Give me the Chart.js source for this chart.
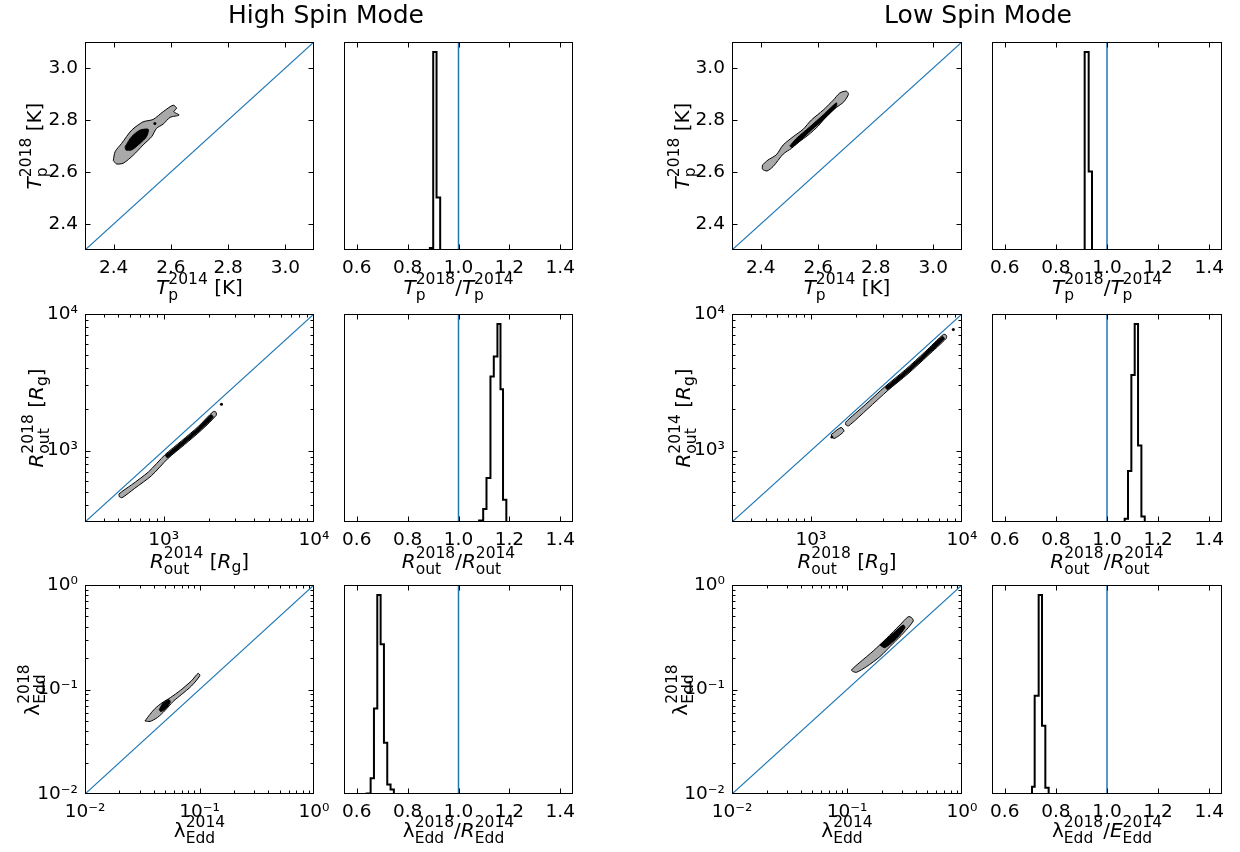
<!DOCTYPE html>
<html>
<head>
<meta charset="utf-8">
<title>High / Low Spin Mode</title>
<script src="https://cdn.jsdelivr.net/npm/chart.js@4.4.1/dist/chart.umd.min.js"></script>
<style>
  body { margin: 0; background: #fff; }
  #fig { position: relative; width: 1240px; height: 852px; overflow: hidden; font-family: "DejaVu Sans", sans-serif; color: #000; background: #fff; }
  #fig canvas { position: absolute; }
  .title { position: absolute; top: 2px; font-size: 25px; line-height: 1; white-space: nowrap; transform: translateX(-50%); }
  .lab { position: absolute; font-size: 20px; line-height: 1; white-space: nowrap; }
  .it { font-style: italic; }
  .ss { display: inline-flex; flex-direction: column; font-size: 15.5px; line-height: 1; vertical-align: 10px; }
  .sb { font-size: 15.5px; vertical-align: -4px; }
</style>
</head>
<body>
<div id="fig"></div>
<script>
(function () {
    'use strict';

    // ---- axes ----
    const tempRange = [2.3, 3.1];
    const tempTicks = [2.4, 2.6, 2.8, 3.0];
    const routRange = [300, 10000];
    const routTicks = [1000, 10000];
    const eddRange = [0.01, 1];
    const eddTicks = [0.01, 0.1, 1];
    const ratioRange = [0.55, 1.45];
    const ratioTicks = [0.6, 0.8, 1.0, 1.2, 1.4];
    const histMax = 1.05;
    const ratioOne = 1.0;

    // ---- contours (x, y) ----
    // High spin, T_p
    const hsTempOuter = [[2.399,2.644],[2.405,2.678],[2.428,2.710],[2.463,2.761],[2.503,2.793],[2.538,2.802],[2.573,2.832],[2.608,2.857],[2.620,2.845],[2.610,2.832],[2.629,2.819],[2.597,2.810],[2.573,2.784],[2.550,2.768],[2.533,2.736],[2.503,2.704],[2.469,2.665],[2.434,2.634],[2.410,2.631]];
    const hsTempInner = [[2.440,2.697],[2.463,2.736],[2.492,2.761],[2.521,2.764],[2.515,2.736],[2.492,2.710],[2.463,2.685],[2.443,2.685]];
    const hsTempDots = [[2.544,2.787]];
    // Low spin, T_p
    const lsTempOuter = [[2.406,2.627],[2.425,2.646],[2.454,2.666],[2.478,2.704],[2.513,2.736],[2.547,2.764],[2.576,2.800],[2.617,2.838],[2.652,2.876],[2.675,2.904],[2.698,2.911],[2.705,2.899],[2.689,2.870],[2.663,2.848],[2.629,2.815],[2.600,2.777],[2.565,2.742],[2.530,2.713],[2.507,2.691],[2.478,2.669],[2.443,2.621],[2.422,2.604],[2.406,2.611]];
    const lsTempInner = [[2.501,2.700],[2.524,2.729],[2.571,2.774],[2.617,2.819],[2.663,2.866],[2.663,2.853],[2.623,2.806],[2.576,2.761],[2.530,2.713],[2.507,2.695]];
    const lsTempDots = [];
    // High spin, R_out
    const hsRoutOuter = [[507,459],[506,482],[614,563],[793,698],[1022,933],[1319,1181],[1703,1503],[2142,1934],[2234,1905],[2238,1814],[1780,1409],[1379,1107],[1068,875],[829,654],[642,529],[529,452]];
    const hsRoutInner = [[1029,922],[1329,1167],[1715,1485],[2069,1826],[2132,1754],[1767,1427],[1369,1121],[1061,886]];
    const hsRoutDots = [[2425,2180]];
    // Low spin, R_out
    const lsRoutOuter = [[1701,1539],[1699,1616],[2282,2163],[3093,2942],[4202,3895],[5701,5296],[7543,7091],[7870,6988],[7883,6651],[5957,4968],[4392,3653],[3233,2760],[2384,2029],[1775,1516]];
    const lsRoutPiece = [[1357,1305],[1581,1477],[1653,1385],[1419,1225]];
    const lsRoutInner = [[3116,2908],[4233,3849],[5742,5235],[7407,6852],[7633,6584],[5916,5029],[4361,3699],[3210,2794]];
    const lsRoutDots = [[1375,1255],[8762,7685]];
    // High spin, lambda_Edd
    const hsEddOuter = [[0.0334,0.0500],[0.0370,0.0580],[0.0410,0.0660],[0.0470,0.0745],[0.0560,0.0840],[0.0680,0.0980],[0.0850,0.1210],[0.0973,0.1428],[0.1007,0.1357],[0.0850,0.1080],[0.0700,0.0900],[0.0590,0.0770],[0.0500,0.0630],[0.0430,0.0540],[0.0370,0.0495]];
    const hsEddInner = [[0.0445,0.0640],[0.0480,0.0740],[0.0540,0.0800],[0.0555,0.0760],[0.0510,0.0660],[0.0460,0.0615]];
    // Low spin, lambda_Edd
    const lsEddOuter = [[0.1132,0.1482],[0.1094,0.1537],[0.1294,0.1820],[0.169,0.2335],[0.2209,0.3088],[0.2885,0.4142],[0.341,0.4977],[0.3648,0.4868],[0.3769,0.4522],[0.3083,0.3448],[0.2521,0.2765],[0.1932,0.2061],[0.1478,0.1654],[0.121,0.146]];
    const lsEddInner = [[0.1932,0.2666],[0.2521,0.3448],[0.3083,0.4142],[0.3187,0.3905],[0.2697,0.3088],[0.2133,0.2514]];

    // ---- ratio histograms: bin edges and counts (peak = 1) ----
    const hsTempEdges = [0.8875, 0.9006, 0.9137, 0.928];
    const hsTempCounts = [0.0105, 1.0, 0.265];
    const lsTempEdges = [0.9126, 0.9283, 0.9413];
    const lsTempCounts = [1.0, 0.396];
    const hsRoutEdges = [1.081, 1.097, 1.110, 1.1256, 1.1387, 1.153, 1.165, 1.175, 1.188];
    const hsRoutCounts = [0.008, 0.065, 0.222, 0.734, 0.835, 1.0, 0.67, 0.112];
    const lsRoutEdges = [1.0691, 1.0822, 1.0953, 1.1084, 1.1215, 1.1346, 1.1477];
    const lsRoutCounts = [0.017, 0.258, 0.742, 1.0, 0.386, 0.028];
    const hsEddEdges = [0.639, 0.6547, 0.6677, 0.6808, 0.6939, 0.707, 0.720, 0.733, 0.746];
    const hsEddCounts = [0.003, 0.079, 0.43, 1.0, 0.752, 0.258, 0.048, 0.023];
    const lsEddEdges = [0.7065, 0.717, 0.7326, 0.7457, 0.7587, 0.7717];
    const lsEddCounts = [0.037, 0.494, 1.0, 0.343, 0.032];

    const BLUE = '#1f77b4';
    const GRAY = '#a9a9a9';
    const FONT = 'DejaVu Sans';
    const TICK_SIZE = 18.5;
    const fig = document.getElementById('fig');

    const SUP = { '-': '\u207B', '0': '\u2070', '1': '\u00B9', '2': '\u00B2', '3': '\u00B3', '4': '\u2074' };

    function fmtLin(v) { return v.toFixed(1); }
    function fmtLog(v) {
        const e = String(Math.round(Math.log10(v)));
        return '10' + e.split('').map(c => SUP[c]).join('');
    }

    function logMinors(range) {
        const out = [];
        for (let d = Math.floor(Math.log10(range[0])); d < Math.ceil(Math.log10(range[1])); d++) {
            for (let k = 2; k <= 9; k++) {
                const v = k * Math.pow(10, d);
                if (v > range[0] && v < range[1]) out.push(v);
            }
        }
        return out;
    }

    function xy(pts) { return pts.map(p => ({ x: p[0], y: p[1] })); }
    function closed(pts) { return xy(pts.concat([pts[0]])); }
    function steps(edges, counts) {
        const out = [{ x: edges[0], y: 0 }];
        counts.forEach((c, i) => {
            out.push({ x: edges[i], y: c });
            out.push({ x: edges[i + 1], y: c });
        });
        out.push({ x: edges[edges.length - 1], y: 0 });
        return out;
    }

    function lineSet(points, color, width, order) {
        return { data: points, borderColor: color, borderWidth: width, pointRadius: 0, fill: false, tension: 0, order: order };
    }
    function patch(poly, color, order) {
        return { data: closed(poly), borderColor: '#000', borderWidth: 1, backgroundColor: color, fill: 'shape', pointRadius: 0, tension: 0.25, order: order };
    }
    function dots(pts, order) {
        return { data: xy(pts), showLine: false, pointRadius: 1.5, pointBackgroundColor: '#000', pointBorderWidth: 0, order: order };
    }

    function axis(pos, type, range, ticks, fmt, size, showLabels) {
        const horizontal = pos === 'bottom';
        return {
            type: type, position: pos, min: range[0], max: range[1], bounds: 'data',
            grid: { display: false, drawTicks: false },
            border: { display: false },
            afterBuildTicks: s => { s.ticks = ticks.map(v => ({ value: v })); },
            afterFit: s => { if (horizontal) s.height = size; else s.width = size; },
            ticks: {
                display: showLabels, autoSkip: false, maxRotation: 0, minRotation: 0,
                padding: horizontal ? 7 : 7, color: '#000',
                font: { family: FONT, size: TICK_SIZE }, callback: fmt
            }
        };
    }

    // inward ticks on every side plus the frame
    const framePlugin = {
        id: 'frame',
        afterDraw(chart, args, opts) {
            const ctx = chart.ctx, a = chart.chartArea;
            const xs = chart.scales.x, ys = chart.scales.y;
            const l = Math.round(a.left) + 0.5, r = Math.round(a.right) - 0.5;
            const t = Math.round(a.top) + 0.5, b = Math.round(a.bottom) - 0.5;
            ctx.save();
            ctx.strokeStyle = '#000';
            ctx.lineWidth = 1;
            ctx.beginPath();
            const xt = (vals, len) => vals.forEach(v => {
                const p = Math.round(xs.getPixelForValue(v)) + 0.5;
                if (p <= l || p >= r) return;
                ctx.moveTo(p, b); ctx.lineTo(p, b - len);
                ctx.moveTo(p, t); ctx.lineTo(p, t + len);
            });
            const yt = (vals, len) => vals.forEach(v => {
                const p = Math.round(ys.getPixelForValue(v)) + 0.5;
                if (p <= t || p >= b) return;
                ctx.moveTo(l, p); ctx.lineTo(l + len, p);
                ctx.moveTo(r, p); ctx.lineTo(r - len, p);
            });
            xt(xs.ticks.map(k => k.value), 5);
            xt(opts.xMinor || [], 3);
            if (opts.yTicks) {
                yt(ys.ticks.map(k => k.value), 5);
                yt(opts.yMinor || [], 3);
            }
            ctx.stroke();
            ctx.strokeRect(l, t, r - l, b - t);
            ctx.restore();
        }
    };

    function makePanel(p) {
        const pad = p.hist ? { l: 20, r: 26, t: 28, b: 40 } : { l: 60, r: 26, t: 28, b: 40 };
        const canvas = document.createElement('canvas');
        canvas.width = p.w + pad.l + pad.r;
        canvas.height = p.h + pad.t + pad.b;
        canvas.style.left = (p.x - pad.l) + 'px';
        canvas.style.top = (p.y - pad.t) + 'px';
        fig.appendChild(canvas);

        let datasets, scales, frame;
        if (p.hist) {
            datasets = [
                lineSet(steps(p.edges, p.counts), '#000', 2, 1),
                lineSet([{ x: ratioOne, y: 0 }, { x: ratioOne, y: histMax }], BLUE, 1.5, 0)
            ];
            scales = {
                x: axis('bottom', 'linear', ratioRange, ratioTicks, fmtLin, pad.b, true),
                y: axis('left', 'linear', [0, histMax], [], fmtLin, pad.l, false)
            };
            frame = { yTicks: false };
        } else {
            const rg = p.range;
            datasets = [lineSet([{ x: rg[0], y: rg[0] }, { x: rg[1], y: rg[1] }], BLUE, 1.2, 0)];
            (p.outer || []).forEach(poly => datasets.push(patch(poly, GRAY, 3)));
            (p.inner || []).forEach(poly => datasets.push(patch(poly, '#000', 2)));
            if (p.dots && p.dots.length) datasets.push(dots(p.dots, 1));
            const fmt = p.type === 'logarithmic' ? fmtLog : fmtLin;
            scales = {
                x: axis('bottom', p.type, rg, p.ticks, fmt, pad.b, true),
                y: axis('left', p.type, rg, p.ticks, fmt, pad.l, true)
            };
            const minors = p.type === 'logarithmic' ? logMinors(rg) : [];
            frame = { yTicks: true, xMinor: minors, yMinor: minors };
        }

        return new Chart(canvas, {
            type: 'line',
            data: { datasets: datasets },
            options: {
                responsive: false,
                animation: false,
                events: [],
                layout: { padding: { left: 0, right: pad.r, top: pad.t, bottom: 0 } },
                plugins: { legend: { display: false }, tooltip: { enabled: false }, frame: frame },
                scales: scales
            },
            plugins: [framePlugin]
        });
    }

    // ---- label helpers (sub/superscripts stacked like mathtext) ----
    function mt(base, sup, sub, italic) {
        return '<span class="' + (italic === false ? '' : 'it') + '">' + base + '</span>' +
            '<span class="ss"><span>' + sup + '</span><span>' + sub + '</span></span>';
    }
    const RG = '[<span class="it">R</span><span class="sb">g</span>]';

    function label(html, cx, cy, vertical) {
        const d = document.createElement('div');
        d.className = 'lab';
        d.innerHTML = html;
        d.style.left = cx + 'px';
        d.style.top = cy + 'px';
        d.style.transform = vertical ? 'translate(-50%,-50%) rotate(-90deg)' : 'translate(-50%,-50%)';
        fig.appendChild(d);
    }
    function title(text, cx) {
        const d = document.createElement('div');
        d.className = 'title';
        d.textContent = text;
        d.style.left = cx + 'px';
        fig.appendChild(d);
    }

    // ---- layout ----
    const colX = [85, 344, 732, 992];
    const colW = [229, 229, 230, 230];
    const rowY = [42, 314, 585];
    const rowH = [208, 208, 209];

    const panels = [
        { r: 0, c: 0, type: 'linear', range: tempRange, ticks: tempTicks, outer: [hsTempOuter], inner: [hsTempInner], dots: hsTempDots },
        { r: 0, c: 1, hist: true, edges: hsTempEdges, counts: hsTempCounts },
        { r: 0, c: 2, type: 'linear', range: tempRange, ticks: tempTicks, outer: [lsTempOuter], inner: [lsTempInner], dots: lsTempDots },
        { r: 0, c: 3, hist: true, edges: lsTempEdges, counts: lsTempCounts },
        { r: 1, c: 0, type: 'logarithmic', range: routRange, ticks: routTicks, outer: [hsRoutOuter], inner: [hsRoutInner], dots: hsRoutDots },
        { r: 1, c: 1, hist: true, edges: hsRoutEdges, counts: hsRoutCounts },
        { r: 1, c: 2, type: 'logarithmic', range: routRange, ticks: routTicks, outer: [lsRoutOuter, lsRoutPiece], inner: [lsRoutInner], dots: lsRoutDots },
        { r: 1, c: 3, hist: true, edges: lsRoutEdges, counts: lsRoutCounts },
        { r: 2, c: 0, type: 'logarithmic', range: eddRange, ticks: eddTicks, outer: [hsEddOuter], inner: [hsEddInner] },
        { r: 2, c: 1, hist: true, edges: hsEddEdges, counts: hsEddCounts },
        { r: 2, c: 2, type: 'logarithmic', range: eddRange, ticks: eddTicks, outer: [lsEddOuter], inner: [lsEddInner] },
        { r: 2, c: 3, hist: true, edges: lsEddEdges, counts: lsEddCounts }
    ];

    panels.forEach(p => {
        p.x = colX[p.c]; p.y = rowY[p.r]; p.w = colW[p.c]; p.h = rowH[p.r];
        makePanel(p);
    });

    title('High Spin Mode', 326);
    title('Low Spin Mode', 978);

    const xLabY = [287, 561, 830];
    const cx = c => colX[c] + colW[c] / 2;
    const cy = r => rowY[r] + rowH[r] / 2;

    // row 1
    label(mt('T', '2014', 'p') + ' [K]', cx(0), xLabY[0]);
    label(mt('T', '2018', 'p') + ' [K]', 34, cy(0), true);
    label(mt('T', '2018', 'p') + '/' + mt('T', '2014', 'p'), cx(1), xLabY[0]);
    label(mt('T', '2014', 'p') + ' [K]', cx(2), xLabY[0]);
    label(mt('T', '2018', 'p') + ' [K]', 682, cy(0), true);
    label(mt('T', '2018', 'p') + '/' + mt('T', '2014', 'p'), cx(3), xLabY[0]);
    // row 2
    label(mt('R', '2014', 'out') + ' ' + RG, cx(0), xLabY[1]);
    label(mt('R', '2018', 'out') + ' ' + RG, 36, cy(1), true);
    label(mt('R', '2018', 'out') + '/' + mt('R', '2014', 'out'), cx(1), xLabY[1]);
    label(mt('R', '2018', 'out') + ' ' + RG, cx(2), xLabY[1]);
    label(mt('R', '2014', 'out') + ' ' + RG, 683, cy(1), true);
    label(mt('R', '2018', 'out') + '/' + mt('R', '2014', 'out'), cx(3), xLabY[1]);
    // row 3
    label(mt('\u03BB', '2014', 'Edd', false), cx(0), xLabY[2]);
    label(mt('\u03BB', '2018', 'Edd', false), 32, cy(2), true);
    label(mt('\u03BB', '2018', 'Edd', false) + '/' + mt('R', '2014', 'Edd'), cx(1), xLabY[2]);
    label(mt('\u03BB', '2014', 'Edd', false), cx(2), xLabY[2]);
    label(mt('\u03BB', '2018', 'Edd', false), 680, cy(2), true);
    label(mt('\u03BB', '2018', 'Edd', false) + '/' + mt('E', '2014', 'Edd'), cx(3), xLabY[2]);
})();
</script>
</body>
</html>
